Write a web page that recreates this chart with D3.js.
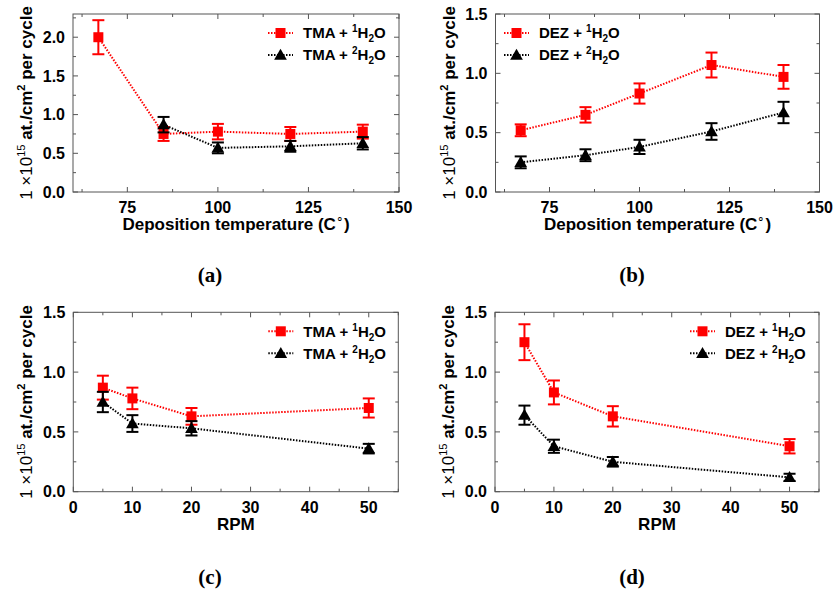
<!DOCTYPE html>
<html>
<head>
<meta charset="utf-8">
<script src="https://cdn.jsdelivr.net/npm/d3@7"></script>
<style>
  body { margin: 0; background: #fff; }
  text { font-family: "Liberation Sans", Arial, sans-serif; font-weight: bold; }
</style>
</head>
<body>
<div id="plot"></div>
<script>
// (a) TMA vs deposition temperature
const tmaTempX1 = [67, 85, 100, 120, 140];
const tmaTempY1 = [2.00, 0.75, 0.78, 0.75, 0.78];
const tmaTempE1 = [0.22, 0.09, 0.10, 0.09, 0.09];
const tmaTempX2 = [85, 100, 120, 140];
const tmaTempY2 = [0.87, 0.57, 0.59, 0.63];
const tmaTempE2 = [0.10, 0.07, 0.07, 0.08];

// (b) DEZ vs deposition temperature
const dezTempX = [67, 85, 100, 120, 140];
const dezTempY1 = [0.52, 0.65, 0.83, 1.07, 0.97];
const dezTempE1 = [0.05, 0.065, 0.085, 0.105, 0.10];
const dezTempY2 = [0.25, 0.31, 0.38, 0.51, 0.67];
const dezTempE2 = [0.05, 0.05, 0.06, 0.07, 0.09];

// (c) TMA vs RPM, (d) DEZ vs RPM
const rpmX = [5, 10, 20, 50];
const tmaRpmY1 = [0.87, 0.78, 0.63, 0.70];
const tmaRpmE1 = [0.10, 0.09, 0.07, 0.08];
const tmaRpmY2 = [0.75, 0.57, 0.53, 0.36];
const tmaRpmE2 = [0.085, 0.07, 0.06, 0.04];
const dezRpmY1 = [1.25, 0.83, 0.63, 0.38];
const dezRpmE1 = [0.15, 0.10, 0.085, 0.06];
const dezRpmY2 = [0.64, 0.38, 0.25, 0.12];
const dezRpmE2 = [0.08, 0.055, 0.04, 0.03];

// axis ticks
const tempTicks = [75, 100, 125, 150];
const tempMinor = [62.5, 87.5, 112.5, 137.5];
const rpmTicks = [0, 10, 20, 30, 40, 50];
const rpmMinor = [5, 15, 25, 35, 45, 55];
const yTicksA = [0, 0.5, 1.0, 1.5, 2.0];
const yMinorA = [0.25, 0.75, 1.25, 1.75, 2.25];
const yTicks = [0, 0.5, 1.0, 1.5];
const yMinor = [0.25, 0.75, 1.25];

const captions = ["(a)", "(b)", "(c)", "(d)"];

const zip = (xs, ys, es) => xs.map((x, i) => ({ x: x, y: ys[i], e: es[i] }));

const panels = [
  { box: [73, 14, 399, 192], xDom: [60, 150], yDom: [0, 2.3], xT: tempTicks, xM: tempMinor, yT: yTicksA, yM: yMinorA,
    xLabel: "Deposition temperature (C°)", chem: "TMA", legLeft: false, cap: [210, 282],
    s1: zip(tmaTempX1, tmaTempY1, tmaTempE1), s2: zip(tmaTempX2, tmaTempY2, tmaTempE2) },
  { box: [495.5, 14, 819.5, 192], xDom: [60, 150], yDom: [0, 1.5], xT: tempTicks, xM: tempMinor, yT: yTicks, yM: yMinor,
    xLabel: "Deposition temperature (C°)", chem: "DEZ", legLeft: true, cap: [632, 282],
    s1: zip(dezTempX, dezTempY1, dezTempE1), s2: zip(dezTempX, dezTempY2, dezTempE2) },
  { box: [73.3, 312.3, 398.3, 491.7], xDom: [0, 55], yDom: [0, 1.5], xT: rpmTicks, xM: rpmMinor, yT: yTicks, yM: yMinor,
    xLabel: "RPM", chem: "TMA", legLeft: false, cap: [210, 584],
    s1: zip(rpmX, tmaRpmY1, tmaRpmE1), s2: zip(rpmX, tmaRpmY2, tmaRpmE2) },
  { box: [495, 312.3, 819, 491.7], xDom: [0, 55], yDom: [0, 1.5], xT: rpmTicks, xM: rpmMinor, yT: yTicks, yM: yMinor,
    xLabel: "RPM", chem: "DEZ", legLeft: false, cap: [632, 584],
    s1: zip(rpmX, dezRpmY1, dezRpmE1), s2: zip(rpmX, dezRpmY2, dezRpmE2) }
];

const svg = d3.select("#plot").append("svg")
  .attr("width", 835).attr("height", 593);

const frameCol = "#555";
const red = "#ff0000";

function drawSquare(g, x, y) {
  g.append("rect").attr("x", x - 5).attr("y", y - 5).attr("width", 10).attr("height", 10).attr("fill", red);
}
function drawTriangle(g, x, y) {
  g.append("path").attr("d", d3.symbol(d3.symbolTriangle, 70)()).attr("transform", `translate(${x},${y + 1})`).attr("fill", "#000");
}

function legendText(g, x, y, chem, n) {
  const t = g.append("text").attr("x", x).attr("y", y).attr("dy", "0.35em").style("font-size", "15px");
  t.append("tspan").text(chem + " + ");
  t.append("tspan").text(n).style("font-size", "10px").attr("dy", -6);
  t.append("tspan").text("H").attr("dy", 6);
  t.append("tspan").text("2").style("font-size", "10px").attr("dy", 4);
  t.append("tspan").text("O").attr("dy", -4);
}

panels.forEach((p, i) => {
  const [x0, y0, x1, y1] = p.box;
  const x = d3.scaleLinear().domain(p.xDom).range([x0, x1]);
  const y = d3.scaleLinear().domain(p.yDom).range([y1, y0]);
  const g = svg.append("g");

  // inward ticks on all four sides
  const tickLen = 5, minorLen = 3;
  const xTickData = p.xT.map(v => ({ v, l: tickLen })).concat(p.xM.map(v => ({ v, l: minorLen })));
  const yTickData = p.yT.map(v => ({ v, l: tickLen })).concat(p.yM.map(v => ({ v, l: minorLen })));
  g.selectAll(".xtb").data(xTickData).enter().append("line")
    .attr("x1", d => x(d.v)).attr("x2", d => x(d.v)).attr("y1", y1).attr("y2", d => y1 - d.l)
    .attr("stroke", frameCol);
  g.selectAll(".xtt").data(xTickData).enter().append("line")
    .attr("x1", d => x(d.v)).attr("x2", d => x(d.v)).attr("y1", y0).attr("y2", d => y0 + d.l)
    .attr("stroke", frameCol);
  g.selectAll(".ytl").data(yTickData).enter().append("line")
    .attr("y1", d => y(d.v)).attr("y2", d => y(d.v)).attr("x1", x0).attr("x2", d => x0 + d.l)
    .attr("stroke", frameCol);
  g.selectAll(".ytr").data(yTickData).enter().append("line")
    .attr("y1", d => y(d.v)).attr("y2", d => y(d.v)).attr("x1", x1).attr("x2", d => x1 - d.l)
    .attr("stroke", frameCol);

  g.append("rect").attr("x", x0).attr("y", y0).attr("width", x1 - x0).attr("height", y1 - y0)
    .attr("fill", "none").attr("stroke", frameCol).attr("stroke-width", 1);

  // tick labels
  g.selectAll(".xl").data(p.xT).enter().append("text")
    .attr("x", d => x(d)).attr("y", y1 + 21).attr("text-anchor", "middle")
    .style("font-size", "16px").text(d => d);
  g.selectAll(".yl").data(p.yT).enter().append("text")
    .attr("x", x0 - 8).attr("y", d => y(d)).attr("dy", "0.35em").attr("text-anchor", "end")
    .style("font-size", "16px").text(d => d3.format(".1f")(d));

  // axis titles
  const xl = g.append("text").attr("x", (x0 + x1) / 2).attr("y", y1 + 38).attr("text-anchor", "middle")
    .style("font-size", "17px");
  if (p.xLabel.startsWith("Deposition")) {
    xl.append("tspan").text("Deposition temperature (C");
    xl.append("tspan").text("∘").style("font-size", "12px").style("font-weight", "normal").attr("dy", -7);
    xl.append("tspan").text(")").attr("dy", 7);
  } else {
    xl.text(p.xLabel);
  }

  const yl = g.append("text")
    .attr("transform", `translate(${x0 - 41},${(y0 + y1) / 2}) rotate(-90)`)
    .attr("text-anchor", "middle").style("font-size", "17px");
  yl.append("tspan").text("1 ").style("font-weight", "normal");
  yl.append("tspan").text("×").style("font-weight", "normal");
  yl.append("tspan").text("10").style("font-weight", "normal");
  yl.append("tspan").text("15").style("font-size", "11px").style("font-weight", "normal").attr("dy", -7);
  yl.append("tspan").text(" at./cm").attr("dy", 7);
  yl.append("tspan").text("2").style("font-size", "11px").attr("dy", -7);
  yl.append("tspan").text(" per cycle").attr("dy", 7);

  // series
  const line = d3.line().x(d => x(d.x)).y(d => y(d.y));
  [{ data: p.s1, col: red, mark: drawSquare }, { data: p.s2, col: "#000", mark: drawTriangle }].forEach(s => {
    g.append("path").attr("d", line(s.data)).attr("fill", "none")
      .attr("stroke", s.col).attr("stroke-width", 2).attr("stroke-dasharray", "1.5,1.5");
    s.data.forEach(d => {
      const cx = x(d.x), top = y(d.y + d.e), bot = y(d.y - d.e);
      g.append("line").attr("x1", cx).attr("x2", cx).attr("y1", top).attr("y2", bot).attr("stroke", s.col).attr("stroke-width", 2);
      g.append("line").attr("x1", cx - 6).attr("x2", cx + 6).attr("y1", top).attr("y2", top).attr("stroke", s.col).attr("stroke-width", 2);
      g.append("line").attr("x1", cx - 6).attr("x2", cx + 6).attr("y1", bot).attr("y2", bot).attr("stroke", s.col).attr("stroke-width", 2);
      s.mark(g, cx, y(d.y));
    });
  });

  // legend
  const lx = p.legLeft ? x0 + 8.5 : x0 + 195;
  [{ col: red, mark: drawSquare, n: "1", yy: y0 + 19 }, { col: "#000", mark: drawTriangle, n: "2", yy: y0 + 41 }].forEach(r => {
    g.append("line").attr("x1", lx).attr("x2", lx + 25).attr("y1", r.yy).attr("y2", r.yy)
      .attr("stroke", r.col).attr("stroke-width", 2).attr("stroke-dasharray", "1.5,1.5");
    r.mark(g, lx + 12.5, r.yy);
    legendText(g, lx + 35, r.yy, p.chem, r.n);
  });

  // caption
  svg.append("text").attr("x", p.cap[0]).attr("y", p.cap[1]).attr("text-anchor", "middle")
    .style("font-family", "'Liberation Serif', serif").style("font-size", "21px").text(captions[i]);
});
</script>
</body>
</html>
